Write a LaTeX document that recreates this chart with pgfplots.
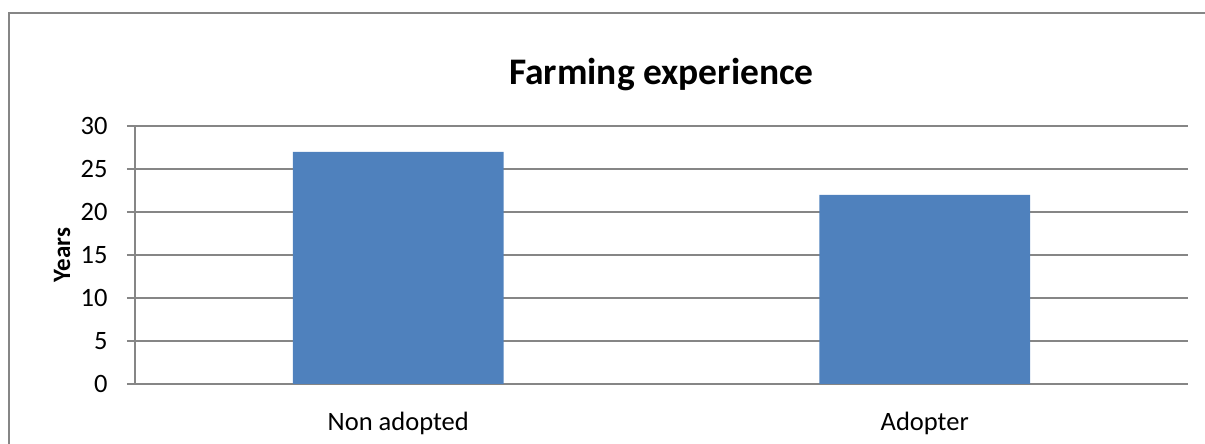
\documentclass[border=0pt]{standalone}
\usepackage{pgfplots}
\pgfplotsset{compat=1.18}
\usepackage{fontspec}
\setmainfont{Carlito}
\definecolor{barblue}{HTML}{4F81BD}
\definecolor{gridgray}{HTML}{868686}
\begin{document}
\begin{tikzpicture}[x=1pt,y=1pt]
\useasboundingbox (0,0) rectangle (1205,444);
\draw[gridgray, line width=1.5pt] (9,0) -- (9,431) -- (1205,431);
\begin{axis}[
  at={(135pt,60pt)}, anchor=south west,
  scale only axis, width=1053pt, height=258pt,
  ybar, bar width=0.4, bar shift=0pt,
  xmin=-0.5, xmax=1.5, ymin=0, ymax=30,
  xtick={0,1}, xticklabels={Non adopted, Adopter},
  xtick style={draw=none},
  ytick={0,5,...,30},
  ymajorgrids, grid style={gridgray, line width=1.5pt},
  axis line style={gridgray, line width=1.5pt},
  axis x line*=bottom, axis y line*=left,
  tick align=outside, ytick style={gridgray, line width=1.5pt},
  major tick length=8pt,
  ticklabel style={font=\fontsize{26.5}{30}\selectfont, text=black},
  /pgf/number format/assume math mode=true,
  yticklabel style={xshift=-16pt},
  xticklabel style={yshift=-17pt},
  title={\textbf{Farming experience}},
  title style={font=\fontsize{37.5}{42}\selectfont, at={(0.5,1)}, yshift=45pt, anchor=center},
  ylabel={\textbf{Years}},
  ylabel style={font=\fontsize{25}{30}\selectfont, at={(axis description cs:-0.0693,0.5)}, anchor=center},
  clip=false,
]
\addplot[fill=barblue, draw=none] coordinates {(0,27) (1,22)};
\end{axis}
\end{tikzpicture}
\end{document}
